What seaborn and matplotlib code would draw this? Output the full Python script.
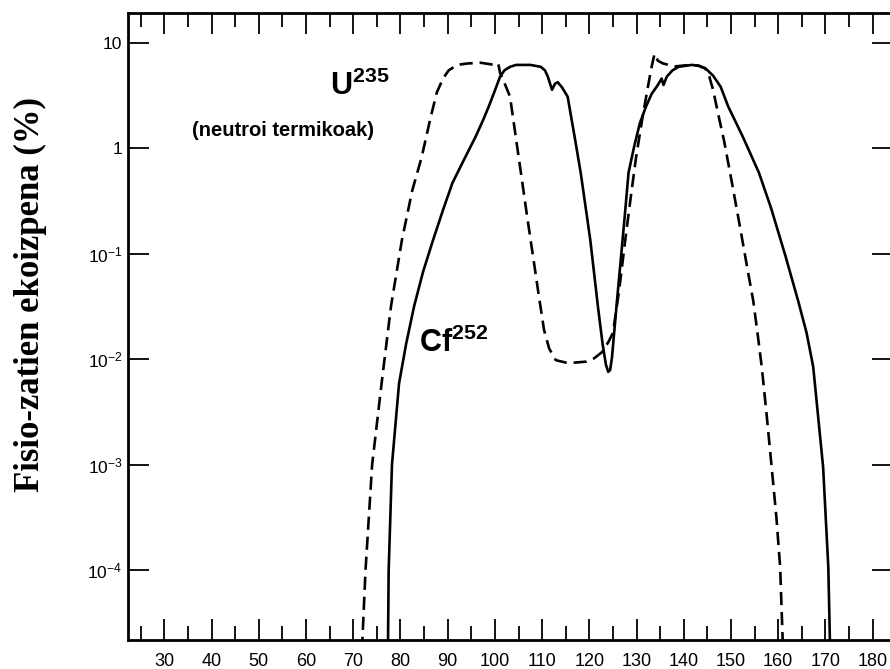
import matplotlib
matplotlib.use("Agg")
import matplotlib.pyplot as plt
import matplotlib.ticker as mticker
import seaborn as sns

# U235 (neutroi termikoak) - dashed
u_mass = [71.6, 72.6, 74.0, 76.0, 78.0, 80.3, 82.5, 84.5, 86.3, 87.7, 89.0, 90.2, 92.0, 94.2, 97.0,
          99.9, 100.7, 101.1, 102.0, 103.2, 104.3, 105.5, 106.8, 108.1, 109.3, 110.4, 111.5, 112.9,
          115.0, 117.0, 119.4, 121.0, 122.7, 124.0, 125.0, 126.3, 127.6, 128.8, 129.9, 131.2, 132.4,
          133.2, 133.8, 134.5, 135.6, 138.1, 141.3, 143.0, 144.5, 145.4, 146.2, 147.3, 148.5, 150.2,
          151.9, 153.5, 154.7, 155.6, 156.5, 157.6, 158.6, 159.6, 160.4, 161.2]
u_yield = [1e-5, 1e-4, 1e-3, 0.0059, 0.032, 0.135, 0.40, 0.83, 1.9, 3.4, 4.6, 5.5, 6.2, 6.4, 6.5,
           6.2, 6.4, 5.2, 4.2, 3.1, 1.4, 0.59, 0.23, 0.093, 0.040, 0.019, 0.0126, 0.0098,
           0.0093, 0.0093, 0.0095, 0.0102, 0.0117, 0.0145, 0.0178, 0.045, 0.135, 0.355, 0.83, 1.9, 3.85,
           6.0, 7.9, 6.8, 6.4, 6.0, 6.2, 6.1, 5.75, 4.8, 3.6, 2.1, 1.2, 0.47,
           0.18, 0.071, 0.036, 0.0178, 0.0085, 0.0028, 0.00095, 0.00032, 0.000107, 1e-5]

# Cf252 - solid
cf_mass = [77.3, 77.5, 78.2, 79.7, 81.2, 82.9, 84.8, 86.9, 89.0, 91.0, 93.5, 95.9, 97.5, 98.7, 100.0,
           101.1, 102.0, 103.2, 104.5, 105.6, 107.5, 109.7, 110.6, 111.2, 112.1, 112.7, 113.3, 114.2,
           115.4, 117.0, 118.2, 120.2, 121.8, 122.8, 123.5, 124.0, 124.4, 124.8, 125.1, 125.9, 126.7,
           127.5, 128.3, 129.5, 130.7, 132.0, 133.2, 134.5, 135.3, 135.7, 136.4, 137.6, 138.9, 141.7,
           143.2, 144.6, 146.2, 147.8, 149.4, 152.5, 155.9, 158.5, 161.6, 164.2, 166.0, 167.4, 169.5,
           170.6, 171.1]
cf_yield = [1e-5, 1e-4, 1e-3, 0.0059, 0.014, 0.032, 0.068, 0.135, 0.26, 0.47, 0.79, 1.29, 1.86, 2.5, 3.55,
            4.8, 5.5, 5.95, 6.2, 6.2, 6.2, 5.95, 5.5, 4.8, 3.6, 4.1, 4.25, 3.8,
            3.1, 1.2, 0.575, 0.135, 0.032, 0.014, 0.0089, 0.0076, 0.0079, 0.0105, 0.015, 0.038, 0.093,
            0.23, 0.59, 1.05, 1.74, 2.5, 3.3, 4.0, 4.6, 4.0, 4.8, 5.5, 5.95, 6.2,
            6.1, 5.75, 4.9, 3.85, 2.5, 1.29, 0.59, 0.27, 0.093, 0.036, 0.0178, 0.0085, 0.00095,
            0.000107, 1e-5]

x_ticks = [30, 40, 50, 60, 70, 80, 90, 100, 110, 120, 130, 140, 150, 160, 170, 180]
y_ticks = [1e-4, 1e-3, 1e-2, 1e-1, 1, 10]
y_tick_labels = ['$10^{-4}$', '$10^{-3}$', '$10^{-2}$', '$10^{-1}$', '1', '10']

sns.set_style("ticks")
plt.rcParams['font.family'] = ['Liberation Sans', 'DejaVu Sans']
plt.rcParams['mathtext.fontset'] = 'custom'
plt.rcParams['mathtext.rm'] = 'Liberation Sans'
plt.rcParams['mathtext.it'] = 'Liberation Sans:italic'
plt.rcParams['mathtext.bf'] = 'Liberation Sans:bold'
for k in ['text.color', 'axes.labelcolor', 'xtick.color', 'ytick.color', 'axes.edgecolor']:
    plt.rcParams[k] = 'black'

fig = plt.figure(figsize=(8.9, 6.69), dpi=100)
ax = fig.add_axes([128 / 890, 1 - 640 / 669, (893 - 128) / 890, (640 - 12.7) / 669])

sns.lineplot(x=u_mass, y=u_yield, ax=ax, color='black', linewidth=1.9,
             linestyle=(0, (5, 2.6)), estimator=None, sort=False)
sns.lineplot(x=cf_mass, y=cf_yield, ax=ax, color='black', linewidth=1.9,
             estimator=None, sort=False)

ax.set_yscale('log')
ax.set_xlim(22.3, 184.3)
ax.set_ylim(2.17e-5, 19.4)

ax.set_xticks(x_ticks)
ax.xaxis.set_minor_locator(mticker.MultipleLocator(5))
ax.set_yticks(y_ticks)
ax.set_yticklabels(y_tick_labels)
ax.yaxis.set_minor_locator(mticker.NullLocator())

ax.tick_params(axis='both', which='major', direction='in', length=15, width=1.3,
               top=True, right=True, color='black')
ax.tick_params(axis='x', which='minor', direction='in', length=10, width=1.3, top=True)
ax.tick_params(axis='x', which='major', labelsize=13, pad=9)
ax.tick_params(axis='y', which='major', labelsize=12.5, pad=4)
for s in ax.spines.values():
    s.set_linewidth(2.0)
    s.set_color('black')

# annotations
ax.text(65.0, 3.2, r'$\mathbf{U^{235}}$', fontsize=22, ha='left', va='baseline')
ax.text(35.9, 1.3, '(neutroi termikoak)', fontsize=14.5, fontweight='bold', ha='left', va='baseline')
ax.text(84.0, 0.0117, r'$\mathbf{Cf^{252}}$', fontsize=22, ha='left', va='baseline')

fig.text(30 / 890, 1 - 295 / 669, 'Fisio-zatien ekoizpena (%)', rotation=90,
         family='Liberation Serif', fontweight='bold', fontsize=25, ha='center', va='center')

plt.savefig('out.png', dpi=100)
